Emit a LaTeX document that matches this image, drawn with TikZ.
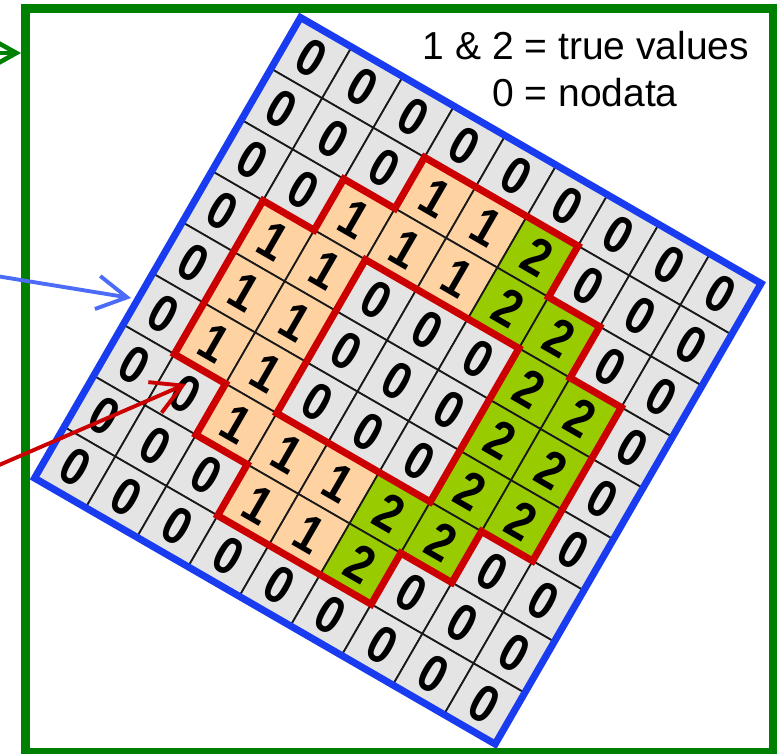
\documentclass[tikz,border=0pt]{standalone}
\usepackage{fontspec}
\setmainfont{Liberation Sans}
\newfontfamily\cellfont[FakeStretch=0.85]{Liberation Sans Bold}
\usetikzlibrary{arrows.meta}
\definecolor{val0}{HTML}{E4E4E4}
\definecolor{val1}{HTML}{FFD2A2}
\definecolor{val2}{HTML}{99CC00}
\definecolor{rimblue}{HTML}{1A3CF0}
\definecolor{outlinered}{HTML}{CC0000}
\definecolor{framegreen}{HTML}{008000}
\definecolor{ptrblue}{HTML}{4A6CF7}
\begin{document}
\begin{tikzpicture}[x=0.1mm,y=-0.1mm,
  gridcell/.style={draw=black!90,line width=.5pt,minimum size=5.91mm,inner sep=0pt,transform shape,font=\cellfont\fontsize{15}{15}\selectfont},
  outline/.style={draw=outlinered,line width=2pt},
  ptr/.style={line width=1.1pt,-{Straight Barb[length=8.5pt,width=9.5pt]}}]
\useasboundingbox (0,0) rectangle (781,754);
\clip (0,0) rectangle (781,754);
\fill[white] (0,0) rectangle (781,754);
\begin{scope}[shift={(300.5,17.5)},rotate=-30,x=5.91mm,y=-5.91mm]
\foreach \vals [count=\r from 0] in {{0,0,0,0,0,0,0,0,0},{0,0,0,1,1,2,0,0,0},{0,0,1,1,1,2,2,0,0},{0,1,1,0,0,0,2,2,0},{0,1,1,0,0,0,2,2,0},{0,1,1,0,0,0,2,2,0},{0,0,1,1,1,2,2,0,0},{0,0,0,1,1,2,0,0,0},{0,0,0,0,0,0,0,0,0}}
  \foreach \v [count=\c from 0] in \vals
    \node[gridcell,fill=val\v] (c-\c-\r) at (\c+.5,\r+.5) {\v};
\draw[outline] (3,1) -| (6,2) -| (7,3) -| (8,6) -| (7,7) -| (6,8) -| (3,7) -| (2,6) -| (1,3) -| (2,2) -- (3,2) -- cycle;
\draw[outline] (3,3) rectangle (6,6);
\draw[rimblue,line width=2pt] (0,0) rectangle (9,9);
\end{scope}
\node[anchor=base,font=\fontsize{11.1}{13}\selectfont] (legendtop) at (586,60) {1 \& 2 = true values};
\node[anchor=base,font=\fontsize{11.1}{13}\selectfont] (legendbot) at (585,107) {0 = nodata};
\draw[framegreen,line width=2.3pt] (25.5,8.5) rectangle (773,752);
\coordinate (gtail) at (-20,53);
\coordinate (ghead) at (21,53);
\coordinate (btail) at (-10,275);
\coordinate (bhead) at (131,298);
\coordinate (rtail) at (-10,469);
\coordinate (rhead) at (186,384);
\draw[ptr,framegreen,line width=1.3pt] (gtail) -- (ghead);
\draw[ptr,ptrblue] (btail) -- (bhead);
\draw[ptr,outlinered] (rtail) -- (rhead);
\end{tikzpicture}
\end{document}
